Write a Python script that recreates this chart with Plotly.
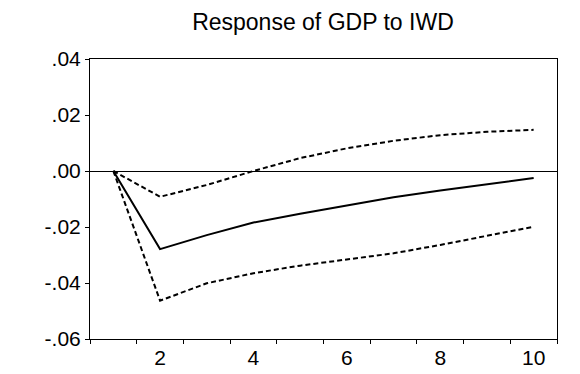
import plotly.graph_objects as go

periods = [1, 2, 3, 4, 5, 6, 7, 8, 9, 10]
response = [0.0, -0.0279, -0.0229, -0.0184, -0.0153, -0.0124, -0.0094, -0.0070, -0.0048, -0.0025]
upper_band = [0.0, -0.0092, -0.0050, 0.0000, 0.0046, 0.0081, 0.0108, 0.0128, 0.0140, 0.0147]
lower_band = [0.0, -0.0463, -0.0401, -0.0365, -0.0338, -0.0315, -0.0294, -0.0264, -0.0232, -0.0199]

y_tickvals = [-0.06, -0.04, -0.02, 0.0, 0.02, 0.04]
y_ticktext = ["-.06", "-.04", "-.02", ".00", ".02", ".04"]
x_labelvals = [2, 4, 6, 8, 10]
x_tickmarks = [0.5 + i for i in range(11)]

font = "Liberation Sans, Arial, sans-serif"

fig = go.Figure()
fig.add_trace(go.Scatter(x=periods, y=upper_band, mode="lines",
                         line=dict(color="black", width=2, dash="5px,3px"),
                         showlegend=False, hoverinfo="skip"))
fig.add_trace(go.Scatter(x=periods, y=lower_band, mode="lines",
                         line=dict(color="black", width=2, dash="5px,3px"),
                         showlegend=False, hoverinfo="skip"))
fig.add_trace(go.Scatter(x=periods, y=response, mode="lines",
                         line=dict(color="black", width=2),
                         showlegend=False))

fig.update_layout(
    width=580, height=374,
    margin=dict(l=82, r=31, t=51, b=43),
    paper_bgcolor="white", plot_bgcolor="white",
    title=dict(text="Response of GDP to IWD", x=0.543, xanchor="center",
               y=0.9626, yanchor="middle",
               font=dict(family=font, size=23, color="black")),
    font=dict(family=font, size=21, color="black"),
    xaxis=dict(range=[0.5, 10.5], tickmode="array", tickvals=x_labelvals,
               ticks="", showgrid=False, zeroline=False,
               showline=True, linecolor="black", linewidth=1, mirror=True,
               tickfont=dict(family=font, size=21, color="black"),
               minor=dict(tickmode="array", tickvals=x_tickmarks, ticks="outside",
                          ticklen=4, tickcolor="black", tickwidth=1, showgrid=False)),
    yaxis=dict(range=[-0.06, 0.04], tickmode="array", tickvals=y_tickvals,
               ticktext=y_ticktext, ticks="outside", ticklen=4, tickcolor="black",
               showgrid=False, zeroline=True, zerolinecolor="black", zerolinewidth=1,
               showline=True, linecolor="black", linewidth=1, mirror=True,
               tickfont=dict(family=font, size=21, color="black")),
)

fig.write_html("out.html")
